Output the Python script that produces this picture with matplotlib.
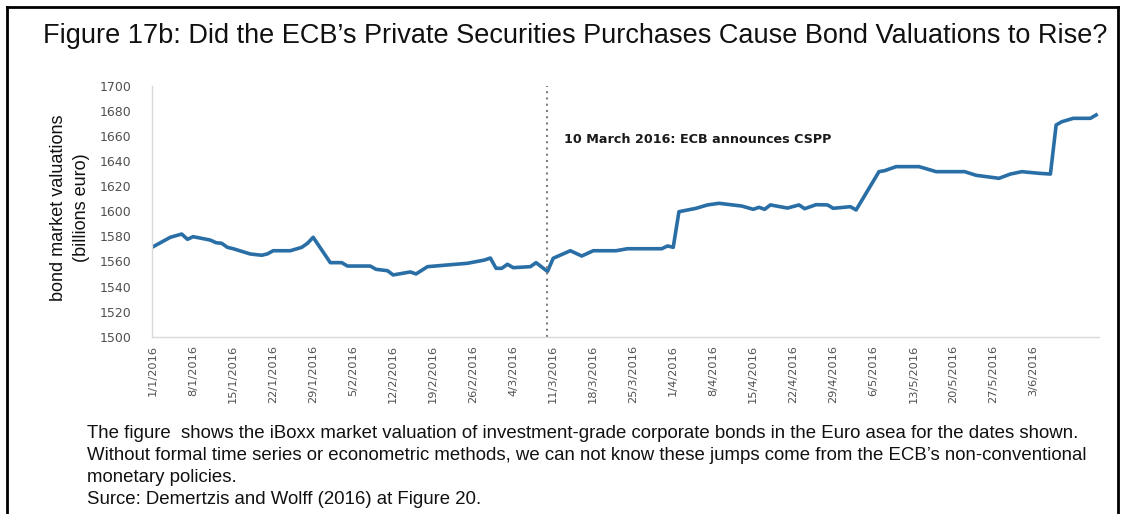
import matplotlib
matplotlib.use("Agg")
import matplotlib.pyplot as plt
from matplotlib.lines import Line2D
import pandas as pd

# iBoxx EUR corporate market valuation
dates = [
    "2016-01-01", "2016-01-04", "2016-01-06", "2016-01-07", "2016-01-08",
    "2016-01-11", "2016-01-12", "2016-01-13", "2016-01-14", "2016-01-15",
    "2016-01-18", "2016-01-20", "2016-01-21", "2016-01-22", "2016-01-25",
    "2016-01-27", "2016-01-28", "2016-01-29", "2016-02-01", "2016-02-03",
    "2016-02-04", "2016-02-08", "2016-02-09", "2016-02-11", "2016-02-12",
    "2016-02-15", "2016-02-16", "2016-02-18", "2016-02-25", "2016-02-28",
    "2016-02-29", "2016-03-01", "2016-03-02", "2016-03-03", "2016-03-04",
    "2016-03-07", "2016-03-08", "2016-03-10", "2016-03-11", "2016-03-13",
    "2016-03-14", "2016-03-16", "2016-03-18", "2016-03-22", "2016-03-24",
    "2016-03-30", "2016-03-31", "2016-04-01", "2016-04-02", "2016-04-05",
    "2016-04-07", "2016-04-09", "2016-04-13", "2016-04-15", "2016-04-16",
    "2016-04-17", "2016-04-18", "2016-04-21", "2016-04-23", "2016-04-24",
    "2016-04-26", "2016-04-28", "2016-04-29", "2016-05-02", "2016-05-03",
    "2016-05-07", "2016-05-08", "2016-05-10", "2016-05-14", "2016-05-15",
    "2016-05-17", "2016-05-22", "2016-05-24", "2016-05-28", "2016-05-30",
    "2016-06-01", "2016-06-04", "2016-06-06", "2016-06-07", "2016-06-08",
    "2016-06-10", "2016-06-13", "2016-06-14",
]
values = [
    1571.7, 1579.2, 1581.8, 1577.6, 1579.7,
    1577.0, 1574.9, 1574.4, 1571.2, 1570.1,
    1565.9, 1564.9, 1566.0, 1568.5, 1568.5,
    1571.2, 1574.4, 1579.2, 1559.0, 1559.0,
    1556.3, 1556.3, 1553.7, 1552.6, 1549.2,
    1551.6, 1550.0, 1555.8, 1558.5, 1561.1,
    1562.7, 1554.5, 1554.5, 1557.7, 1555.0,
    1555.8, 1559.0, 1552.0, 1562.5, 1566.5,
    1568.5, 1564.3, 1568.5, 1568.5, 1570.1,
    1570.1, 1572.3, 1571.2, 1599.6, 1602.3,
    1605.0, 1606.3, 1604.1, 1601.5, 1603.1,
    1601.5, 1605.0, 1602.5, 1605.0, 1602.0,
    1605.2, 1605.0, 1602.3, 1603.6, 1601.0,
    1631.5, 1632.3, 1635.5, 1635.5, 1634.2,
    1631.5, 1631.5, 1628.6, 1626.2, 1629.6,
    1631.5, 1630.2, 1629.6, 1668.7, 1671.3,
    1674.0, 1674.0, 1676.7,
]

announce_date = "2016-03-10"
announce_text = "10 March 2016: ECB announces CSPP"
y_ticks = list(range(1500, 1701, 20))
tick_dates = pd.date_range("2016-01-01", "2016-06-03", freq="7D")

title = "Figure 17b: Did the ECB\u2019s Private Securities Purchases Cause Bond Valuations to Rise?"
caption = [
    "The figure  shows the iBoxx market valuation of investment-grade corporate bonds in the Euro asea for the dates shown.",
    "Without formal time series or econometric methods, we can not know these jumps come from the ECB\u2019s non-conventional",
    "monetary policies.",
    "Surce: Demertzis and Wolff (2016) at Figure 20.",
]

W, H = 1146, 514
fig = plt.figure(figsize=(W / 100, H / 100), dpi=100)
fig.patch.set_facecolor("white")

# frame around the figure (left, top, right)
fx = lambda px: px / W
fy = lambda py: 1 - py / H
for xs, ys in [([7, 7], [H + 5, 7]), ([7, 1118], [7, 7]), ([1118, 1118], [7, H + 5])]:
    fig.add_artist(Line2D([fx(v) for v in xs], [fy(v) for v in ys],
                          color="black", lw=2, transform=fig.transFigure))

fig.text(fx(575), fy(36), title, ha="center", va="center",
         fontsize=19.5, family="Liberation Sans", color="#111111")

ax = fig.add_axes([fx(152), fy(336.7), fx(1099) - fx(152), fy(85.7) - fy(336.7)])
x = pd.to_datetime(dates)
ax.plot(x, values, color="#2a6ea6", lw=2.6, solid_joinstyle="round")

ann = pd.Timestamp(announce_date)
ax.axvline(ann, color="#7f7f7f", lw=1.5, ls=(0, (1, 2)))
ax.annotate(announce_text, xy=(ann, 1657), xytext=(12, 0), textcoords="offset points",
            ha="left", va="center", fontsize=9.2, fontweight="bold", color="#1a1a1a")

start = pd.Timestamp("2016-01-01")
ax.set_xlim(start - pd.Timedelta(days=0.2), start + pd.Timedelta(days=165.5))
ax.set_ylim(1500, 1700)
ax.set_yticks(y_ticks)
ax.set_xticks(tick_dates)
ax.set_xticklabels([f"{d.day}/{d.month}/{d.year}" for d in tick_dates], rotation=90)
ax.tick_params(axis="both", length=0, labelsize=8.2, labelcolor="#505050")
ax.tick_params(axis="x", pad=6)
ax.tick_params(axis="y", pad=15, labelsize=9)

for side in ["top", "right"]:
    ax.spines[side].set_visible(False)
for side in ["left", "bottom"]:
    ax.spines[side].set_color("#d9d9d9")
    ax.spines[side].set_linewidth(1)

fig.text(fx(70), fy(208), "bond market valuations\n(billions euro)", rotation=90,
         ha="center", va="center", fontsize=13, family="Liberation Sans",
         linespacing=1.5, multialignment="center", color="#111111")

for i, line in enumerate(caption):
    fig.text(fx(87), fy(434 + i * 21.7), line, ha="left", va="center",
             fontsize=13.4, family="Liberation Sans", color="#111111")

fig.savefig("out.png", dpi=100)
